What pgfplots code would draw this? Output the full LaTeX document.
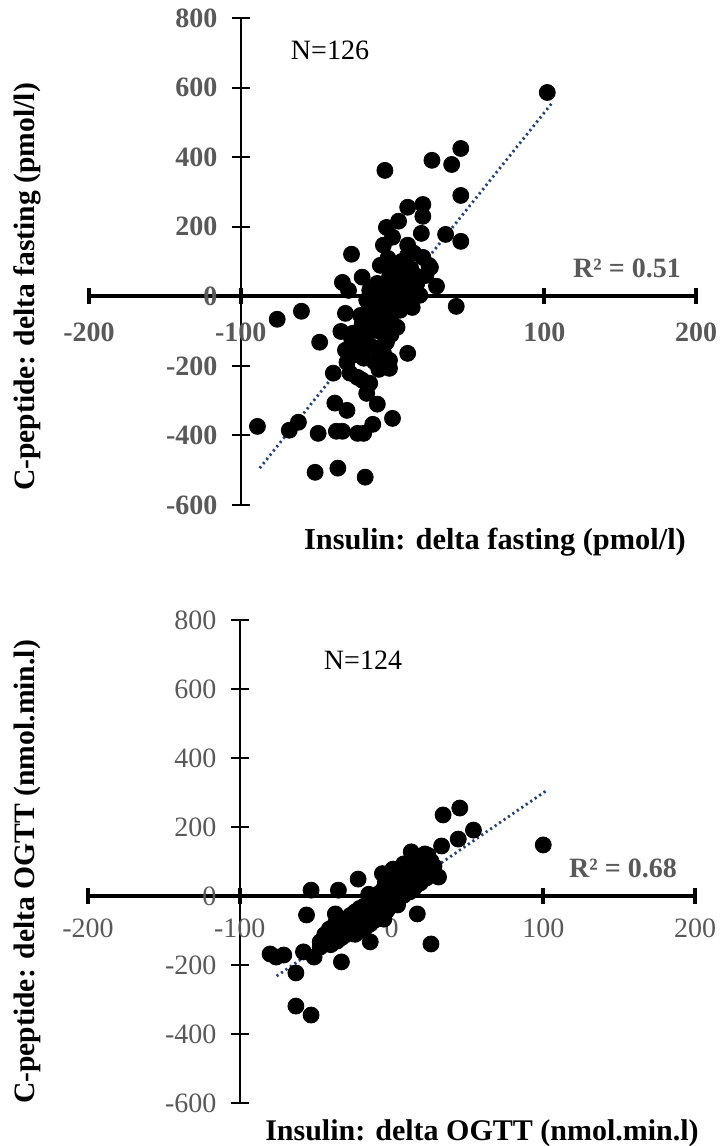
\documentclass[border=0pt]{standalone}
\usepackage{pgfplots}
\pgfplotsset{compat=1.18}
\usepackage{fontspec}
\setmainfont{Liberation Serif}
\definecolor{ticktext}{HTML}{595959}
\definecolor{trend}{HTML}{2A4470}

% Fasting deltas: insulin (x, pmol/l) vs C-peptide (y, pmol/l), N=126
\pgfplotstableread{
x y
102 586
45 425
26 391
39 379
-5 362
45 290
10 256
20 264
20 230
4 216
-4 198
19 181
35 178
45 158
-6 147
10 147
0 170
-27 121
-3 109
10 118
20 112
24 89
14 124
25 83
-20 55
-33 40
-29 17
-13 9
-2 55
5 75
12 66
16 37
29 29
-4 26
4 17
2 89
-8 89
8 98
-10 37
-15 17
7 37
12 -3
-4 -20
-10 -26
5 -40
-17 -11
13 -32
42 -29
2 -6
18 3
-5 3
-76 -66
-60 -43
-31 -49
-21 -55
-34 -101
-48 -132
-26 -106
-19 -135
-13 -98
-4 -78
3 -89
-4 -132
10 -164
-2 -184
-2 -207
-31 -155
-19 -178
-39 -221
-28 -221
-20 -241
-15 -250
-17 -279
-10 -310
-38 -307
-30 -328
0 -351
-13 -368
-19 -394
-23 -394
-33 -388
-37 -388
-49 -394
-62 -362
-68 -385
-89 -374
-51 -506
-36 -494
-18 -520
-27 -121
-15 -141
-4 -126
-23 -233
-5 -8
0 8
2 -22
-8 -42
-11 -62
-6 -55
0 -48
5 -12
8 22
-2 42
3 52
7 45
-13 -82
-16 -95
-19 -112
-8 -102
-10 -150
-6 -162
-22 -148
-25 -168
-12 -188
14 12
17 55
22 60
-1 -110
-4 -70
10 -8
-15 -30
-20 -80
12 80
6 100
-30 -190
-9 -210
}\fastingdata

% OGTT deltas: insulin (x, nmol.min.l) vs C-peptide (y, nmol.min.l), N=124
\pgfplotstableread{
x y
100 148
45 255
34 235
54 191
44 165
33 145
13 128
22 122
8 93
-3 61
-22 49
31 55
-53 17
-35 17
-56 -55
-37 -52
17 -52
26 -139
-33 -191
-63 -223
-76 -177
-71 -171
-58 -162
-51 -177
-47 -133
-63 -319
-53 -345
16 41
6 32
1 78
-41 -125
-28 -104
-14 -133
-5 -67
4 -26
-80 -168
-47 -148
-45 -138
-44 -112
-42 -128
-41 -96
-40 -141
-39 -114
-37 -108
-37 -80
-36 -131
-34 -98
-33 -121
-33 -74
-31 -93
-30 -112
-30 -66
-29 -85
-28 -104
-27 -56
-26 -73
-25 -92
-24 -46
-24 -111
-22 -62
-22 -81
-21 -36
-20 -100
-19 -55
-19 -74
-18 -29
-17 -91
-16 -46
-15 -64
-14 -15
-14 -81
-12 -31
-12 -52
-11 -3
-11 -70
-10 -45
-9 -24
-9 -58
-8 8
-7 -37
-6 -11
-5 22
-5 -30
-4 40
-3 -6
-3 -42
-2 14
-1 -20
0 28
0 -2
1 50
2 -15
3 9
3 36
4 57
5 18
5 -8
6 44
7 70
8 25
8 2
9 54
10 88
11 33
11 63
12 12
13 98
14 46
14 74
15 24
16 108
17 57
18 86
19 38
20 112
21 68
22 95
23 52
24 118
25 76
26 101
28 86
-6 65
-15 5
}\ogttdata

\pgfplotsset{
  quad/.style={scale only axis, width=303.5pt,
    xmin=-200, xmax=200, ymin=-600, ymax=800,
    hide axis, clip=false},
}
\newcommand{\crossaxes}{%
  \draw[line width=1pt] (axis cs:-100,-600) -- (axis cs:-100,800);
  \pgfplotsinvokeforeach{-600,-400,-200,0,200,400,600,800}{%
    \draw[line width=1pt] ([xshift=-4.5pt]axis cs:-100,##1) -- ([xshift=4.5pt]axis cs:-100,##1);}
  \draw[line width=2pt] (axis cs:-200,0) -- (axis cs:200,0);
  \pgfplotsinvokeforeach{-200,-100,0,100,200}{%
    \draw[line width=2pt] ([yshift=-4pt]axis cs:##1,0) -- ([yshift=4pt]axis cs:##1,0);}
}

\begin{document}
\begin{tikzpicture}
\useasboundingbox (0,0) rectangle (360pt,-573pt);

% upper panel: fasting
\begin{axis}[quad, height=243.5pt, at={(44.5pt,-252.5pt)}, anchor=south west]
  \crossaxes
  \addplot[only marks, mark=*, mark size=4pt, black] table {\fastingdata};
  \addplot[trend, line width=1.4pt, dash pattern=on 1.1pt off 1.6pt] coordinates {(-87.5,-494) (105,555)};
  \pgfplotsinvokeforeach{-600,-400,-200,0,200,400,600,800}{%
    \node[anchor=east, inner sep=0pt, text=ticktext, font=\fontsize{14}{16}\selectfont\bfseries]
      at ([xshift=-11.5pt]axis cs:-100,#1) {#1};}
  \pgfplotsinvokeforeach{-200,-100,0,100,200}{%
    \node[inner sep=0pt, text=ticktext, font=\fontsize{14}{16}\selectfont\bfseries]
      at ([yshift=-18pt]axis cs:#1,0) {#1};}
\end{axis}

% lower panel: OGTT
\begin{axis}[quad, height=241.5pt, at={(44pt,-551.5pt)}, anchor=south west]
  \crossaxes
  \addplot[only marks, mark=*, mark size=4pt, black] table {\ogttdata};
  \addplot[trend, line width=1.4pt, dash pattern=on 1.1pt off 1.6pt] coordinates {(-75.7,-232) (102.6,307)};
  \pgfplotsinvokeforeach{-600,-400,-200,0,200,400,600,800}{%
    \node[anchor=east, inner sep=0pt, text=ticktext, font=\fontsize{14}{16}\selectfont]
      at ([xshift=-11.5pt]axis cs:-100,#1) {#1};}
  \pgfplotsinvokeforeach{-200,-100,0,100,200}{%
    \node[inner sep=0pt, text=ticktext, font=\fontsize{14}{16}\selectfont]
      at ([yshift=-16pt]axis cs:#1,0) {#1};}
\end{axis}

% annotations and axis titles
\node[font=\fontsize{14}{16}\selectfont] at (165pt,-25pt) {N=126};
\node[text=ticktext, font=\fontsize{14}{16}\selectfont\bfseries] at (313.5pt,-134pt) {R² = 0.51};
\node[rotate=90, font=\fontsize{14.8}{17}\selectfont\bfseries] at (13.5pt,-143.5pt) {C-peptide: delta fasting (pmol/l)};
\node[font=\fontsize{15.2}{17}\selectfont\bfseries] at (247.5pt,-271pt) {Insulin: delta fasting (pmol/l)};

\node[font=\fontsize{14}{16}\selectfont] at (181.5pt,-330pt) {N=124};
\node[text=ticktext, font=\fontsize{14}{16}\selectfont\bfseries] at (311.5pt,-434pt) {R² = 0.68};
\node[rotate=90, font=\fontsize{14.8}{17}\selectfont\bfseries] at (13.5pt,-436pt) {C-peptide: delta OGTT (nmol.min.l)};
\node[font=\fontsize{15}{17}\selectfont\bfseries] at (241pt,-566.5pt) {Insulin: delta OGTT (nmol.min.l)};
\end{tikzpicture}
\end{document}
